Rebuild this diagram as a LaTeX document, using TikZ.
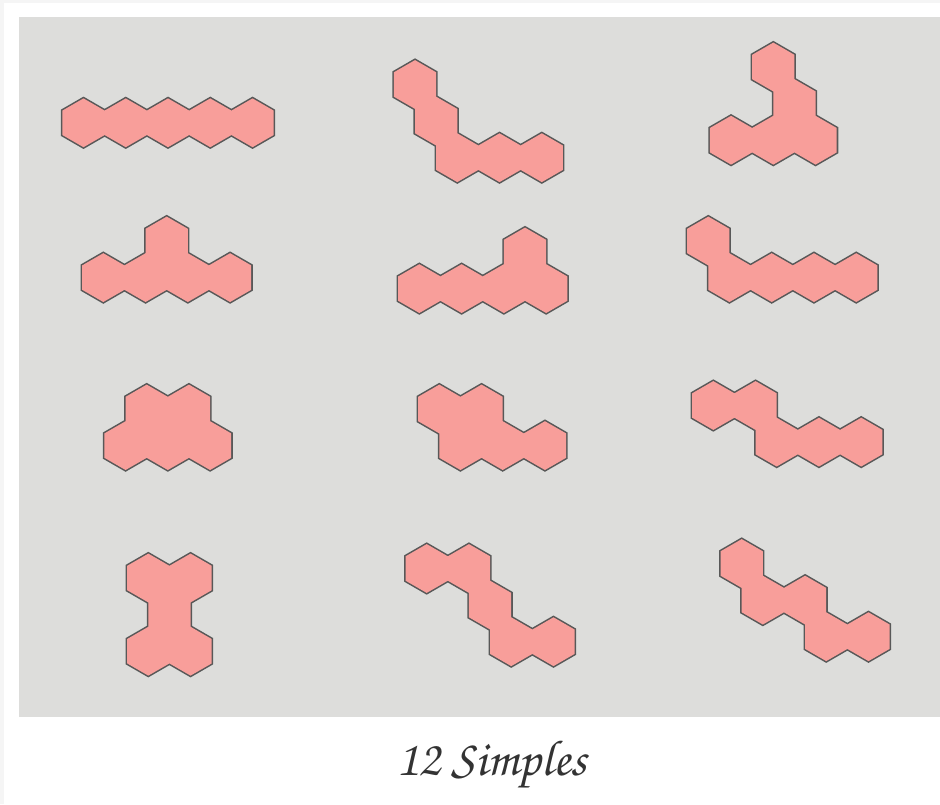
\documentclass[tikz,border=0pt]{standalone}
\usepackage[T1,TU]{fontenc}
\usepackage{tikz}
\usetikzlibrary{positioning}

\definecolor{hintergrund}{RGB}{221,221,219}
\definecolor{sechseck}{RGB}{248,158,154}
\definecolor{kante}{RGB}{88,88,88}

%Ein Teil aus fuenf Sechsecken: Mittelpunkt des ersten Sechsecks, dann die Versaetze i/j
%(i in halben Breiten nach rechts, j in Zeilen nach unten)
\newcommand{\teil}[3]{%
  \draw[rand] \foreach \i/\j in {#3}{
    ({#1+(\i)*\halb},{#2+(\j)*\zeile}) +(30:\seite) -- +(90:\seite) -- +(150:\seite) -- +(210:\seite) -- +(270:\seite) -- +(330:\seite) -- cycle
  };
  \fill[feld] \foreach \i/\j in {#3}{
    ({#1+(\i)*\halb},{#2+(\j)*\zeile}) +(30:\seite) -- +(90:\seite) -- +(150:\seite) -- +(210:\seite) -- +(270:\seite) -- +(330:\seite) -- cycle
  };
}

\begin{document}
\begin{tikzpicture}[x=0.025cm,y=-0.025cm,
  rand/.style={draw=kante,line width=2.2pt},
  feld/.style={fill=sechseck,nonzero rule},
  titel/.style={anchor=base,text=black!80,font=\fontencoding{T1}\fontfamily{pzc}\fontseries{m}\fontshape{it}\fontsize{36}{42}\selectfont}]
%Seite eines Sechsecks (Spitze oben), halbe Breite und Zeilenabstand
  \pgfmathsetmacro{\seite}{24.4}
  \pgfmathsetmacro{\halb}{\seite*sqrt(0.75)}
  \pgfmathsetmacro{\zeile}{1.5*\seite}
\useasboundingbox (0,0) rectangle (940,804);
\fill[white] (0,0) rectangle (940,804);
\fill[black!4] (0,0) rectangle (940,3);
\fill[black!4] (0,0) rectangle (4,804);
\fill[hintergrund] (19,17) rectangle (940,717);
%erste Reihe
\teil{83.5}{122.8}{0/0,2/0,4/0,6/0,8/0}
\teil{415}{84.5}{0/0,1/1,2/2,4/2,6/2}
\teil{773.3}{67}{0/0,1/1,-2/2,0/2,2/2}
%zweite Reihe
\teil{166.7}{241}{0/0,-3/1,-1/1,1/1,3/1}
\teil{525}{252}{0/0,-5/1,-3/1,-1/1,1/1}
\teil{708.3}{241}{0/0,1/1,3/1,5/1,7/1}
%dritte Reihe
\teil{146.7}{409}{0/0,2/0,-1/1,1/1,3/1}
\teil{439.3}{409}{0/0,2/0,1/1,3/1,5/1}
\teil{713.3}{405.5}{0/0,2/0,3/1,5/1,7/1}
%vierte Reihe
\teil{148.3}{578}{0/0,2/0,1/1,0/2,2/2}
\teil{426.7}{568.5}{0/0,2/0,3/1,4/2,6/2}
\teil{741.7}{563.5}{0/0,1/1,3/1,4/2,6/2}
\node[titel] (titel) at (491.5,775) {12 Simples};
\end{tikzpicture}
\end{document}
